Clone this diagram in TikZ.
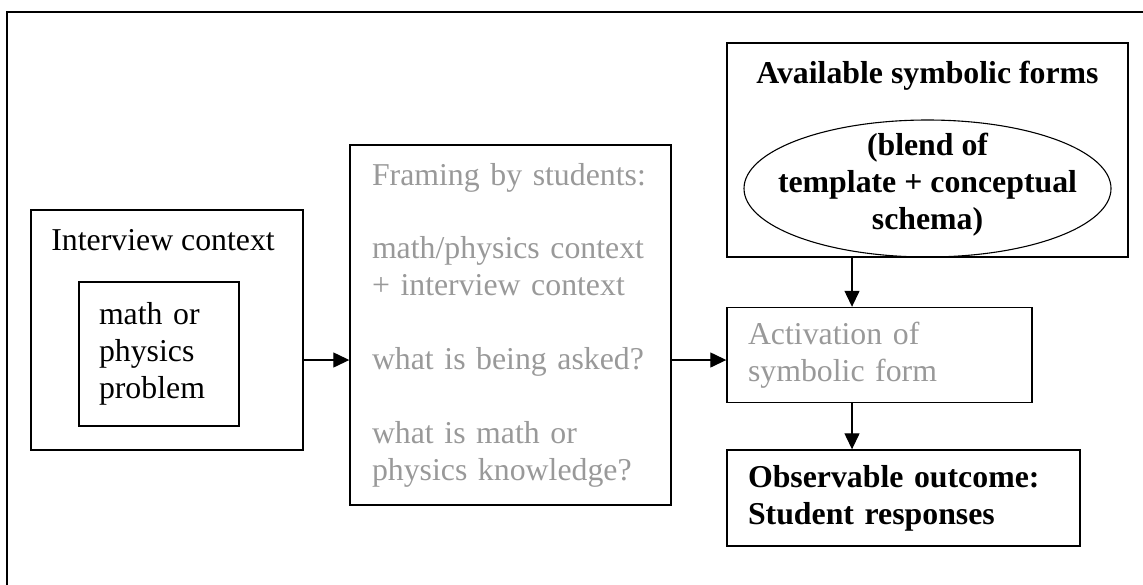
\documentclass[tikz,border=0pt]{standalone}
\usepackage{fontspec}
\setmainfont{Liberation Serif}
\usepackage{tikz}
\usetikzlibrary{shapes.geometric,arrows.meta,positioning,calc}
\tikzstyle{box}=[rectangle, draw=black, line width=0.7pt, inner sep=0pt]
\tikzstyle{txt}=[font=\fontsize{15.9pt}{18.45pt}\selectfont]
\tikzstyle{btxt}=[font=\fontsize{15.9pt}{18.45pt}\selectfont\bfseries]
\tikzstyle{arr}=[line width=0.65pt, -{Triangle[length=8pt,width=7.5pt]}]
\usepackage{xcolor}
\definecolor{tgray}{HTML}{999999}

\begin{document}
\begin{tikzpicture}[x=0.5pt, y=-0.5pt]
    \useasboundingbox (0,0) rectangle (1143,584);
    % outer frame, cut off at the right and bottom
    \draw[line width=1pt] (1160,12) -- (7,12) -- (7,600);

    \node[box, minimum width=136pt, minimum height=120pt] at (167,330) (iview) {};
    \node[txt, anchor=base west, inner sep=0pt] at (51,250) (ititle) {Interview context};
    \node[box, txt, text width=60pt, inner xsep=10pt, minimum height=72pt, align=left] at (159,354) (prob) {math or\\physics\\problem};

    \node[box, txt, text=tgray, text width=138.5pt, inner xsep=11pt, minimum height=180pt, align=left] at (510.5,325) (frame)
        {Framing by students:\\[18.45pt]math/physics context\\+ interview context\\[18.45pt]what is being asked?\\[18.45pt]what is math or\\physics knowledge?};

    \node[box, minimum width=200.5pt, minimum height=107pt] at (927.5,150) (avail) {};
    \node[btxt, anchor=base] at (927.5,83) (atitle) {Available symbolic forms};
    \node[ellipse, draw=black, line width=0.55pt, inner sep=0pt, minimum width=183.5pt, minimum height=68.5pt] at (927.5,188.5) (blend) {};
    \node[btxt, align=center, inner sep=0pt] at ([yshift=2pt]blend.center) (btext) {(blend of\\template + conceptual\\schema)};

    \node[box, txt, text=tgray, text width=131.5pt, inner xsep=10.5pt, minimum height=47.5pt, align=left] at (879.5,355) (actv) {Activation of\\symbolic form};
    \node[box, btxt, text width=155.5pt, inner xsep=10.5pt, minimum height=48pt, align=left] at (903.5,498) (obs) {Observable outcome:\\Student responses};

    \coordinate (mid) at (0,360);
    \coordinate (dn) at (852,0);
    \draw[arr] (iview.east |- mid) -- (frame.west |- mid);
    \draw[arr] (frame.east |- mid) -- (actv.west |- mid);
    \draw[arr] (avail.south -| dn) -- (actv.north -| dn);
    \draw[arr] (actv.south -| dn) -- (obs.north -| dn);
\end{tikzpicture}
\end{document}
